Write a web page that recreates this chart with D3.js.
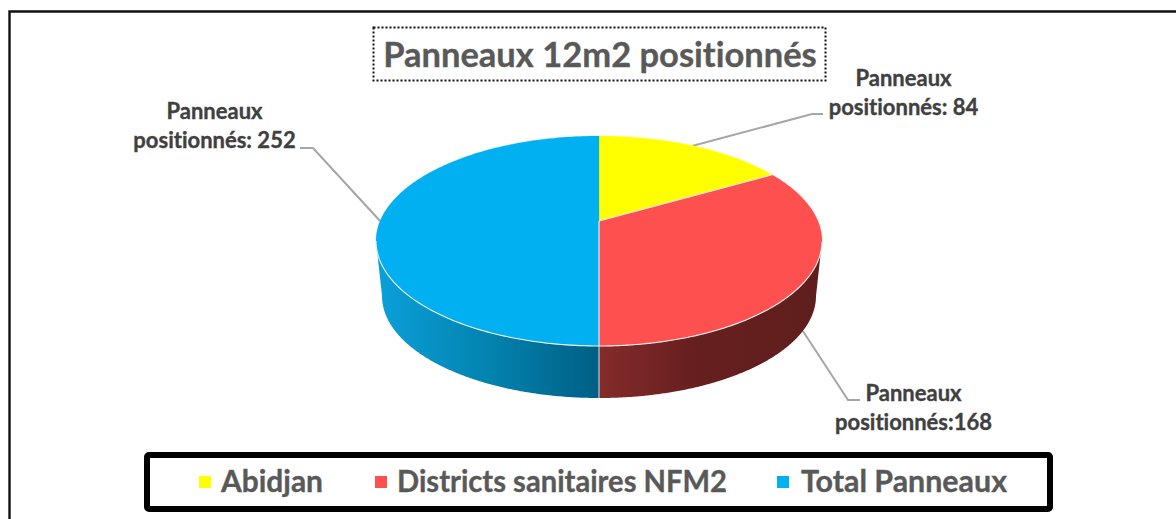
<!DOCTYPE html>
<html><head><meta charset="utf-8">
<script src="https://cdn.jsdelivr.net/npm/d3@7/dist/d3.min.js"></script>
<style>html,body{margin:0;padding:0;background:#fff;overflow:hidden}svg{display:block}text{font-family:Lato,"Open Sans",sans-serif;font-weight:700;font-variant-ligatures:none;stroke:currentColor;stroke-width:.35px}</style>
</head><body><div id="chart"></div>
<script>
const titleText = "Panneaux 12m2 positionnés";
const categories = ["Abidjan", "Districts sanitaires NFM2", "Total Panneaux"];
const values = [84, 168, 252];
const sliceColors = ["#FFFF00", "#FF5050", "#00B0F0"];
const labelLines = [["Panneaux", "positionnés: 84"], ["Panneaux", "positionnés:168"], ["Panneaux", "positionnés: 252"]];

const W = 1176, H = 519;
const svg = d3.select("#chart").append("svg").attr("width", W).attr("height", H);
const defs = svg.append("defs");

// perspective tilt of the disc: the pie centre sits above the centre of the ellipse
const tilt = -0.19;
const topX = d3.scaleLinear([-1, 1], [376, 822]);
const topY = d3.scaleLinear([-1, 1], [136, 346]);
const botX = d3.scaleLinear([-1, 1], [382, 816]);
const botY = d3.scaleLinear([-1, 1], [194, 398]);
const project = a => {
  const u = Math.sin(a), v = -Math.cos(a), den = 1 + tilt * v;
  return [u * Math.sqrt(1 - tilt * tilt) / den, (v + tilt) / den];
};
const slices = d3.pie().sort(null)(values);
const sample = (a0, a1, n = 180) => d3.range(n + 1).map(i => a0 + (a1 - a0) * i / n);
const lineGen = d3.line();
const onTop = p => [topX(p[0]), topY(p[1])];
const onBot = p => [botX(p[0]), botY(p[1])];

// outer frame
svg.append("path").attr("d", lineGen([[9.5, H], [9.5, 11.5], [W, 11.5]]))
  .attr("fill", "none").attr("stroke", "#111").attr("stroke-width", 2.4);

// side gradients
const sideStops = [null,
  [[0, "#842b2a"], [0.45, "#661f1f"], [1, "#5f1e1d"]],
  [[0, "#0a9fd8"], [0.5, "#0382ae"], [1, "#005f85"]]];
const sideRange = [null, [599, 816], [382, 599]];
sideStops.forEach((st, i) => {
  if (!st) return;
  const g = defs.append("linearGradient").attr("id", "side" + i).attr("gradientUnits", "userSpaceOnUse")
    .attr("x1", sideRange[i][0]).attr("x2", sideRange[i][1]).attr("y1", 0).attr("y2", 0);
  st.forEach(s => g.append("stop").attr("offset", s[0]).attr("stop-color", s[1]));
});

// leader lines
const elbows = [[[812, 114], [823, 114]], [[848, 400], [860, 400]], [[313, 148], [300, 148]]];
const leaders = svg.append("g").attr("fill", "none").attr("stroke", "#a6a6a6").attr("stroke-width", 2);
slices.forEach((s, i) => {
  const p = project((s.startAngle + s.endAngle) / 2);
  const anchor = p[1] > 0 ? onBot(p) : onTop(p);
  leaders.append("path").attr("d", lineGen([anchor, ...elbows[i]]));
});

// pie side wall
const sides = svg.append("g");
slices.forEach((s, i) => {
  const pts = sample(s.startAngle, s.endAngle, 360).map(project).filter(p => p[1] >= -0.002);
  if (!pts.length) return;
  const d = lineGen([...pts.map(onTop), ...pts.slice().reverse().map(onBot)]) + "Z";
  sides.append("path").attr("d", d).attr("fill", `url(#side${i})`);
});
// seam on the side wall
const seam = project(slices[1].endAngle);
sides.append("path").attr("d", lineGen([onTop(seam), onBot(seam)]))
  .attr("stroke", "#c9c9c9").attr("stroke-width", 1.2).attr("fill", "none");

// pie top
const apex = onTop([0, tilt]);
const tops = svg.append("g");
slices.forEach((s, i) => {
  const rim = sample(s.startAngle, s.endAngle).map(project).map(onTop);
  tops.append("path").attr("d", lineGen([apex, ...rim]) + "Z").attr("fill", sliceColors[i])
    .attr("stroke", sliceColors[i]).attr("stroke-width", 0.3);
});
// light edges
const edges = svg.append("g").attr("fill", "none").attr("stroke", "#f2f2f2").attr("stroke-width", 1.1);
slices.forEach(s => {
  const rim = sample(s.startAngle, s.endAngle).map(project);
  edges.append("path").attr("d", lineGen(rim.filter(p => p[1] >= 0).map(onTop)));
  if (s.index > 0) edges.append("path").attr("d", lineGen([apex, onTop(project(s.startAngle))]));
});

// title
svg.append("rect").attr("x", 373.5).attr("y", 27.5).attr("width", 452).attr("height", 53)
  .attr("fill", "none").attr("stroke", "#111").attr("stroke-width", 2).attr("stroke-dasharray", "2 2");
svg.append("text").attr("x", 600).attr("y", 67).attr("text-anchor", "middle")
  .attr("font-size", 34.5).attr("fill", "#595959").style("color", "#595959").text(titleText);

// data labels
const labelPos = [[903.5, 86], [913.5, 401], [214.5, 119]];
const labelG = svg.append("g").attr("fill", "#404040").style("color", "#404040").attr("font-size", 22).attr("text-anchor", "middle");
labelLines.forEach((ls, i) => ls.forEach((t, j) => {
  labelG.append("text").attr("x", labelPos[i][0]).attr("y", labelPos[i][1] + j * 29).text(t);
}));

// legend
svg.append("rect").attr("x", 147).attr("y", 455).attr("width", 903).attr("height", 54).attr("rx", 2)
  .attr("fill", "#fff").attr("stroke", "#000").attr("stroke-width", 6);
const legendX = [199, 375, 777];
const legendWidths = [102, 330, 206];
const legendG = svg.append("g").style("color", "#595959");
categories.forEach((c, i) => {
  legendG.append("rect").attr("x", legendX[i]).attr("y", 476).attr("width", 12).attr("height", 12).attr("fill", sliceColors[i]);
  legendG.append("text").attr("x", legendX[i] + 22 + (i === 2 ? 2 : 0)).attr("y", 492).attr("font-size", 29.5).attr("fill", "#595959")
    .attr("textLength", legendWidths[i]).attr("lengthAdjust", "spacingAndGlyphs").text(c);
});
</script></body></html>
